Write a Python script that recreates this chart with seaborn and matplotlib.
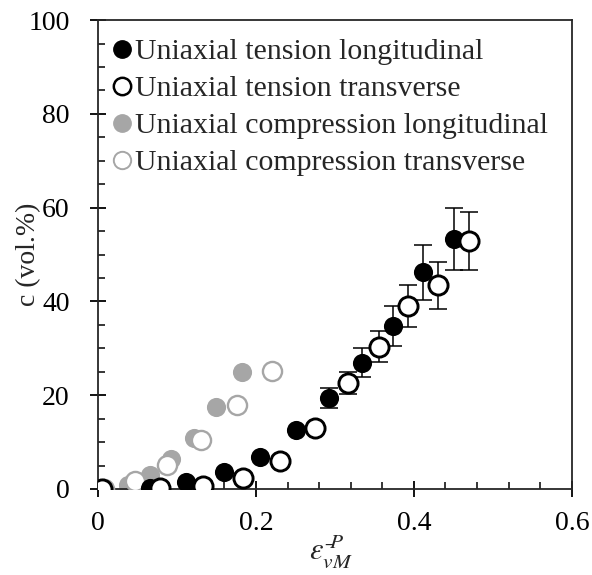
import matplotlib
matplotlib.use("Agg")
import matplotlib.pyplot as plt
import seaborn as sns
import numpy as np
import pandas as pd
from matplotlib.ticker import MultipleLocator
from matplotlib.lines import Line2D

# ---- data ----
tl_x = [0.0, 0.066, 0.112, 0.159, 0.205, 0.251, 0.293, 0.334, 0.374, 0.412, 0.451]
tl_y = [0.0, 0.2, 1.5, 3.6, 6.9, 12.6, 19.4, 26.9, 34.8, 46.2, 53.3]
tl_err = [0, 0, 0, 0, 0, 0, 2.2, 3.1, 4.2, 5.8, 6.6]

tt_x = [0.005, 0.078, 0.133, 0.184, 0.231, 0.275, 0.317, 0.356, 0.393, 0.430, 0.470]
tt_y = [0.0, 0.2, 0.6, 2.4, 5.9, 13.1, 22.6, 30.3, 39.0, 43.4, 52.8]
tt_err = [0, 0, 0, 0, 0, 0, 2.4, 3.3, 4.5, 5.0, 6.2]

cl_x = [0.007, 0.038, 0.066, 0.093, 0.121, 0.150, 0.182]
cl_y = [0.3, 0.9, 3.0, 6.5, 10.8, 17.5, 25.0]

ct_x = [0.007, 0.047, 0.087, 0.131, 0.176, 0.220]
ct_y = [0.0, 1.7, 5.1, 10.5, 17.9, 25.1]

x_ticks = [0, 0.2, 0.4, 0.6]
x_ticklabels = ["0", "0.2", "0.4", "0.6"]
y_ticks = [0, 20, 40, 60, 80, 100]

labels = ["Uniaxial tension longitudinal", "Uniaxial tension transverse",
          "Uniaxial compression longitudinal", "Uniaxial compression transverse"]

GRAY = "#a6a6a6"

sns.set_style("ticks")
plt.rcParams["font.family"] = ["Liberation Serif", "DejaVu Serif"]
plt.rcParams["mathtext.fontset"] = "stix"

fig = plt.figure(figsize=(5.92, 5.75), dpi=100)
ax = fig.add_axes([0.1655, 0.1496, 0.8005, 0.8154])

# error bars (behind markers)
ax.errorbar(tl_x, tl_y, yerr=tl_err, fmt="none", ecolor="black", elinewidth=1.1,
            capsize=6.5, capthick=1.1, zorder=1)
ax.errorbar(tt_x, tt_y, yerr=tt_err, fmt="none", ecolor="black", elinewidth=1.1,
            capsize=6.5, capthick=1.1, zorder=1)

ms = 190
sns.scatterplot(x=cl_x, y=cl_y, ax=ax, s=ms, color=GRAY, edgecolor=GRAY, linewidth=0, zorder=2)
sns.scatterplot(x=ct_x, y=ct_y, ax=ax, s=ms, facecolor="white", edgecolor=GRAY, linewidth=1.7, zorder=3)
sns.scatterplot(x=tl_x, y=tl_y, ax=ax, s=ms, color="black", edgecolor="black", linewidth=0, zorder=4)
sns.scatterplot(x=tt_x, y=tt_y, ax=ax, s=ms, facecolor="white", edgecolor="black", linewidth=2.1, zorder=5)

ax.set_xlim(0, 0.6)
ax.set_ylim(0, 100)
ax.set_xticks(x_ticks)
ax.set_xticklabels(x_ticklabels)
ax.set_yticks(y_ticks)
ax.xaxis.set_minor_locator(MultipleLocator(0.04))
ax.yaxis.set_minor_locator(MultipleLocator(5))

for s in ax.spines.values():
    s.set_linewidth(1.3)
    s.set_visible(True)
ax.tick_params(which="major", direction="inout", length=11.5, width=1.3, labelsize=20, colors="black")
ax.tick_params(axis="x", which="major", pad=10)
ax.tick_params(axis="y", which="major", pad=14.5)
ax.tick_params(which="minor", direction="in", length=5, width=1.3)

ax.set_ylabel("c (vol.%)", fontsize=20)
ax.yaxis.set_label_coords(-0.121, 0.5)
ax.set_xlabel(r"$\varepsilon^{\bar{\ }P}_{vM}$", fontsize=22)
ax.xaxis.set_label_coords(0.4916, -0.093)

handles = [
    Line2D([], [], marker="o", ls="none", markersize=12.5, markerfacecolor="black", markeredgecolor="black"),
    Line2D([], [], marker="o", ls="none", markersize=12.5, markerfacecolor="white", markeredgecolor="black", markeredgewidth=1.8),
    Line2D([], [], marker="o", ls="none", markersize=12.5, markerfacecolor=GRAY, markeredgecolor=GRAY),
    Line2D([], [], marker="o", ls="none", markersize=12.5, markerfacecolor="white", markeredgecolor=GRAY, markeredgewidth=1.4),
]
ax.legend(handles, labels, loc="upper left", frameon=False, fontsize=21.5,
          handletextpad=0.0, handlelength=0.9, labelspacing=0.34,
          borderaxespad=0, borderpad=0, bbox_to_anchor=(0.022, 0.961))

fig.savefig("out.png", dpi=100)
